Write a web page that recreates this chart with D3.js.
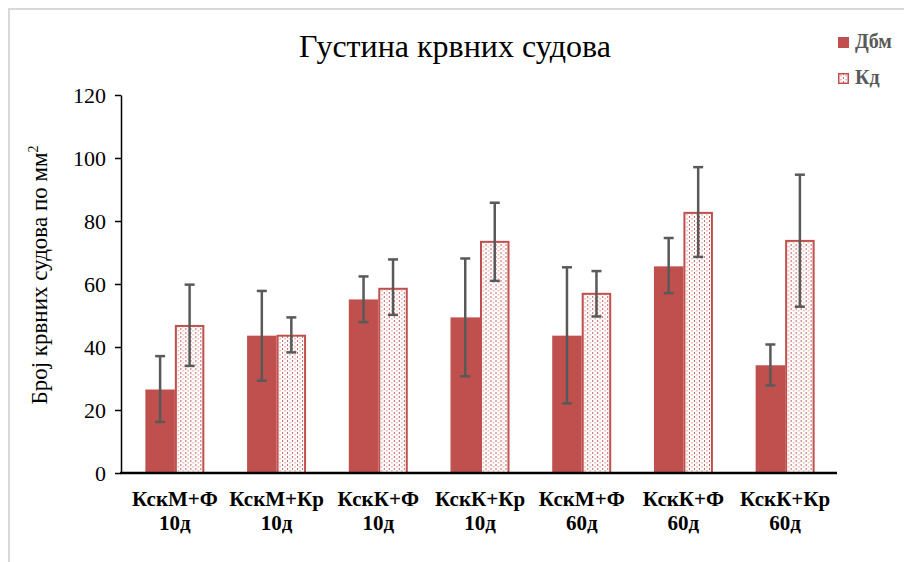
<!DOCTYPE html>
<html>
<head>
<meta charset="utf-8">
<script src="https://cdn.jsdelivr.net/npm/d3@7"></script>
<style>
  body { margin: 0; background: #fff; }
  svg { display: block; }
</style>
</head>
<body>
<svg id="chart"></svg>
<script>
// categories (two-line labels)
const categories = ["КскМ+Ф|10д", "КскМ+Кр|10д", "КскК+Ф|10д", "КскК+Кр|10д", "КскМ+Ф|60д", "КскК+Ф|60д", "КскК+Кр|60д"];
const seriesNames = ["Дбм", "Кд"];
// means
const dbmValues = [26.5, 43.6, 55.1, 49.4, 43.6, 65.6, 34.2];
const kdValues = [47.0, 43.9, 58.8, 73.7, 57.2, 82.9, 74.0];
// error bar low / high
const dbmLow = [16.2, 29.3, 47.9, 30.7, 22.1, 57.1, 27.8];
const dbmHigh = [37.1, 57.8, 62.4, 68.1, 65.3, 74.6, 40.8];
const kdLow = [34.0, 38.3, 50.2, 61.0, 49.7, 68.6, 52.8];
const kdHigh = [59.8, 49.4, 67.8, 85.8, 64.1, 97.1, 94.7];
const yTicks = [0, 20, 40, 60, 80, 100, 120];

const W = 904, H = 562;
const red = "#C0504D";
const FONT = "'Liberation Serif'";
const svg = d3.select("#chart").attr("width", W).attr("height", H);

// dotted pattern for second series
const defs = svg.append("defs");
const pat = defs.append("pattern")
  .attr("id", "dots")
  .attr("patternUnits", "userSpaceOnUse")
  .attr("width", 5).attr("height", 4);
pat.append("rect").attr("width", 5).attr("height", 4).attr("fill", "#fff");
pat.append("rect").attr("x", 0).attr("y", 0).attr("width", 1).attr("height", 2).attr("fill", red).attr("opacity", 0.9);
pat.append("rect").attr("x", 2.5).attr("y", 2).attr("width", 1).attr("height", 1.5).attr("fill", red).attr("opacity", 0.7);

// outer frame
svg.append("rect")
  .attr("x", 9).attr("y", 9)
  .attr("width", W + 10).attr("height", H + 10)
  .attr("fill", "none")
  .attr("stroke", "#d9d9d9")
  .attr("stroke-width", 2);

const x = d3.scaleBand()
  .domain(categories)
  .range([124, 836])
  .paddingInner(0.42)
  .paddingOuter(0.21);

const xSub = d3.scaleBand()
  .domain(seriesNames)
  .range([0, x.bandwidth()]);

const y = d3.scaleLinear().domain([0, 120]).range([473, 95]);

const rows = categories.map((c, i) => ({
  cat: c,
  vals: [
    { s: "Дбм", v: dbmValues[i], lo: dbmLow[i], hi: dbmHigh[i] },
    { s: "Кд", v: kdValues[i], lo: kdLow[i], hi: kdHigh[i] }
  ]
}));

// bars
const groups = svg.selectAll("g.grp")
  .data(rows)
  .enter().append("g")
  .attr("class", "grp")
  .attr("transform", d => `translate(${x(d.cat)},0)`);

groups.selectAll("rect")
  .data(d => d.vals)
  .enter().append("rect")
  .attr("x", d => xSub(d.s) + (d.s === "Кд" ? 1 : 0))
  .attr("y", d => y(d.v) + (d.s === "Кд" ? 1 : 0))
  .attr("width", d => xSub.bandwidth() - (d.s === "Кд" ? 2 : 0))
  .attr("height", d => y(0) - y(d.v) - (d.s === "Кд" ? 1 : 0))
  .attr("fill", d => d.s === "Кд" ? "url(#dots)" : red)
  .attr("stroke", d => d.s === "Кд" ? red : "none")
  .attr("stroke-width", 2);

// error bars
const eb = groups.selectAll("g.err")
  .data(d => d.vals)
  .enter().append("g")
  .attr("class", "err")
  .attr("stroke", "#595959")
  .attr("stroke-width", 2.5);
const cx = d => xSub(d.s) + xSub.bandwidth() / 2;
eb.append("line")
  .attr("x1", cx).attr("x2", cx)
  .attr("y1", d => y(d.lo)).attr("y2", d => y(d.hi));
eb.append("line")
  .attr("x1", d => cx(d) - 5).attr("x2", d => cx(d) + 5)
  .attr("y1", d => y(d.lo)).attr("y2", d => y(d.lo));
eb.append("line")
  .attr("x1", d => cx(d) - 5).attr("x2", d => cx(d) + 5)
  .attr("y1", d => y(d.hi)).attr("y2", d => y(d.hi));

// y axis
const yAxis = svg.append("g")
  .attr("transform", "translate(121,0)")
  .call(d3.axisLeft(y).tickValues(yTicks).tickSize(6).tickSizeOuter(0).tickPadding(9));
yAxis.attr("font-family", FONT).attr("font-size", 22);
yAxis.select(".domain").attr("stroke", "#000").attr("stroke-width", 1.5);
yAxis.selectAll(".tick line").attr("stroke", "#000").attr("stroke-width", 1.5);
yAxis.selectAll("text").attr("fill", "#000");

// x axis line
svg.append("line")
  .attr("x1", 120).attr("x2", 837)
  .attr("y1", y(0)).attr("y2", y(0))
  .attr("stroke", "#000").attr("stroke-width", 2.5);

// x labels
const xl = svg.selectAll("text.xl")
  .data(categories)
  .enter().append("text")
  .attr("class", "xl")
  .attr("text-anchor", "middle")
  .attr("font-family", FONT)
  .attr("font-weight", "bold")
  .attr("font-size", 21)
  .attr("fill", "#000");
xl.each(function(d) {
  const parts = d.split("|");
  const t = d3.select(this);
  const cxp = x(d) + x.bandwidth() / 2;
  t.append("tspan").attr("x", cxp).attr("y", 506).text(parts[0]);
  t.append("tspan").attr("x", cxp).attr("y", 530).text(parts[1]);
});

// title
svg.append("text")
  .attr("x", 455).attr("y", 57)
  .attr("text-anchor", "middle")
  .attr("font-family", FONT)
  .attr("font-size", 32)
  .attr("fill", "#000")
  .text("Густина крвних судова");

// y title
const yt = svg.append("text")
  .attr("transform", "translate(47,275) rotate(-90)")
  .attr("text-anchor", "middle")
  .attr("font-family", FONT)
  .attr("font-size", 23)
  .attr("fill", "#000");
yt.append("tspan").text("Број крвних судова по мм");
yt.append("tspan").attr("dy", -9).attr("font-size", 14).text("2");

// legend
const leg = svg.selectAll("g.leg")
  .data(seriesNames)
  .enter().append("g")
  .attr("class", "leg")
  .attr("transform", (d, i) => `translate(838,${37 + i * 36})`);
leg.append("rect")
  .attr("x", d => d === "Кд" ? 0.75 : 0)
  .attr("y", d => d === "Кд" ? 0.75 : 0)
  .attr("width", d => d === "Кд" ? 9.5 : 11)
  .attr("height", d => d === "Кд" ? 9.5 : 11)
  .attr("fill", d => d === "Кд" ? "url(#dots)" : red)
  .attr("stroke", d => d === "Кд" ? red : "none")
  .attr("stroke-width", 1.5);
leg.append("text")
  .attr("x", 17).attr("y", 10.5)
  .attr("font-family", FONT)
  .attr("font-weight", "bold")
  .attr("font-size", 20)
  .attr("fill", "#595959")
  .text(d => d);
</script>
</body>
</html>
